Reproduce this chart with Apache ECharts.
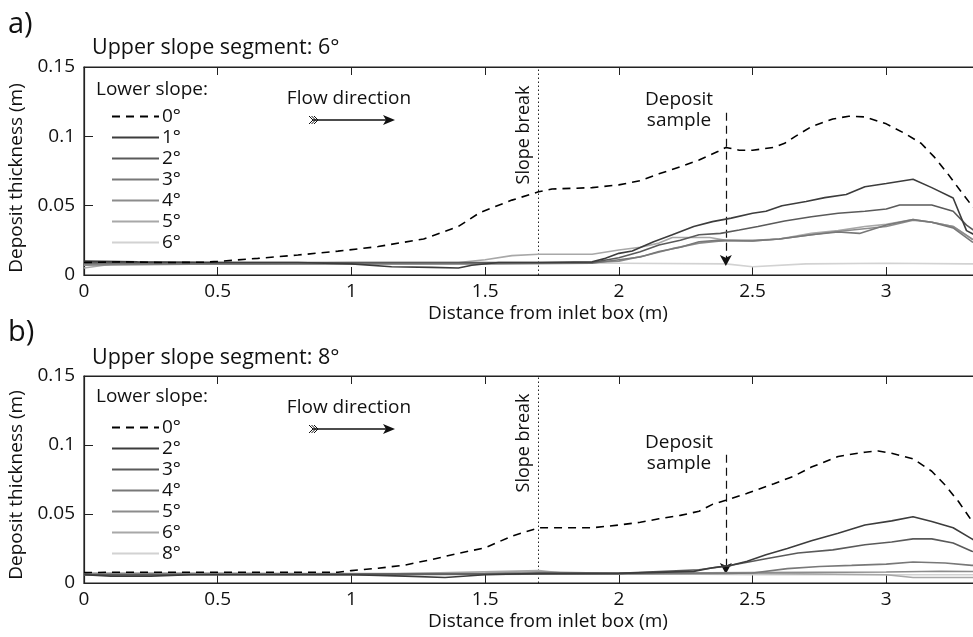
<!DOCTYPE html>
<html>
<head>
<meta charset="utf-8">
<script src="https://cdn.jsdelivr.net/npm/echarts@6/dist/echarts.min.js"></script>
<style>
html, body { margin: 0; padding: 0; background: #fff; }
#chart { width: 973px; height: 637px; }
</style>
</head>
<body>
<div id="chart"></div>
<script>
// 数据: 上坡段 6° (a) 与 8° (b)，各下坡角度的沉积厚度 [距离 m, 厚度 m]
const xTicks = [0, 0.5, 1, 1.5, 2, 2.5, 3, 3.5]
const yTicks = [0, 0.05, 0.1, 0.15]

const a0 = [[0,0.009],[0.15,0.0095],[0.3,0.009],[0.45,0.0092],[0.5,0.0098],[0.65,0.012],[0.8,0.0144],[0.95,0.0172],[1.1,0.0205],[1.27,0.026],[1.4,0.035],[1.48,0.045],[1.6,0.054],[1.7,0.060],[1.75,0.062],[1.9,0.063],[2.0,0.065],[2.08,0.068],[2.15,0.073],[2.23,0.078],[2.3,0.083],[2.37,0.089],[2.4,0.092],[2.45,0.090],[2.5,0.090],[2.58,0.092],[2.62,0.095],[2.66,0.1],[2.72,0.107],[2.8,0.1125],[2.86,0.1145],[2.92,0.114],[3.0,0.109],[3.07,0.102],[3.13,0.095],[3.18,0.085],[3.23,0.073],[3.28,0.060],[3.32,0.050],[3.4,0.032],[3.5,0.02]]
const a1 = [[0,0.01],[0.2,0.0095],[0.5,0.009],[0.8,0.009],[1.0,0.008],[1.15,0.006],[1.3,0.0055],[1.4,0.005],[1.45,0.007],[1.55,0.009],[1.7,0.009],[1.9,0.0095],[1.95,0.012],[2.0,0.0156],[2.05,0.0173],[2.13,0.024],[2.2,0.029],[2.28,0.035],[2.35,0.0385],[2.42,0.041],[2.5,0.0445],[2.55,0.046],[2.61,0.050],[2.7,0.053],[2.77,0.0558],[2.85,0.058],[2.92,0.0637],[3.0,0.066],[3.1,0.069],[3.17,0.063],[3.25,0.0555],[3.3,0.032],[3.33,0.029],[3.4,0.02],[3.5,0.015]]
const a2 = [[0,0.009],[0.5,0.009],[1.0,0.009],[1.5,0.009],[1.9,0.009],[2.0,0.0125],[2.08,0.0168],[2.15,0.0216],[2.23,0.025],[2.3,0.029],[2.38,0.030],[2.45,0.0324],[2.52,0.035],[2.62,0.039],[2.72,0.042],[2.82,0.0445],[2.92,0.046],[3.0,0.0476],[3.05,0.0505],[3.17,0.0505],[3.25,0.046],[3.3,0.036],[3.4,0.022],[3.5,0.016]]
const a3 = [[0,0.008],[0.5,0.008],[1.0,0.008],[1.5,0.008],[1.9,0.0085],[2.0,0.011],[2.08,0.013],[2.15,0.017],[2.23,0.020],[2.3,0.024],[2.37,0.025],[2.5,0.0245],[2.6,0.026],[2.72,0.029],[2.82,0.031],[2.9,0.030],[3.0,0.036],[3.1,0.040],[3.17,0.038],[3.25,0.034],[3.32,0.024],[3.5,0.012]]
const a4 = [[0,0.007],[0.5,0.008],[1.0,0.0085],[1.5,0.0085],[1.9,0.009],[2.0,0.010],[2.1,0.014],[2.2,0.019],[2.3,0.023],[2.4,0.025],[2.5,0.025],[2.6,0.026],[2.7,0.0285],[2.8,0.031],[2.9,0.033],[3.0,0.035],[3.1,0.0395],[3.17,0.038],[3.25,0.035],[3.32,0.026],[3.5,0.013]]
const a5 = [[0,0.005],[0.15,0.009],[0.5,0.008],[1.0,0.009],[1.4,0.009],[1.5,0.011],[1.6,0.014],[1.7,0.015],[1.9,0.015],[2.0,0.018],[2.08,0.020],[2.15,0.023],[2.2,0.027],[2.34,0.027],[2.4,0.025],[2.5,0.0245],[2.6,0.026],[2.72,0.030],[2.82,0.032],[2.92,0.035],[3.0,0.0365],[3.1,0.040],[3.17,0.038],[3.25,0.035],[3.32,0.026],[3.5,0.013]]
const a6 = [[0,0.008],[0.5,0.008],[1.0,0.008],[1.5,0.0085],[2.0,0.0085],[2.4,0.008],[2.5,0.006],[2.7,0.008],[3.0,0.0085],[3.3,0.008],[3.5,0.008]]

const b0 = [[0,0.0075],[0.1,0.0078],[0.5,0.0078],[0.95,0.0078],[1.0,0.009],[1.1,0.0107],[1.2,0.013],[1.3,0.017],[1.4,0.0215],[1.5,0.0255],[1.6,0.034],[1.7,0.040],[1.9,0.040],[2.0,0.042],[2.08,0.044],[2.15,0.0465],[2.23,0.049],[2.3,0.052],[2.35,0.057],[2.4,0.060],[2.48,0.065],[2.58,0.072],[2.65,0.077],[2.72,0.084],[2.82,0.0917],[2.92,0.0948],[2.97,0.0957],[3.02,0.094],[3.1,0.090],[3.17,0.081],[3.22,0.071],[3.27,0.059],[3.32,0.045],[3.4,0.03],[3.5,0.02]]
const b2 = [[0,0.006],[0.1,0.005],[0.25,0.005],[0.4,0.006],[1.0,0.006],[1.2,0.005],[1.35,0.004],[1.5,0.006],[1.7,0.007],[2.0,0.007],[2.28,0.0084],[2.35,0.011],[2.42,0.0128],[2.48,0.0157],[2.55,0.0205],[2.63,0.025],[2.72,0.0306],[2.82,0.036],[2.92,0.042],[3.02,0.045],[3.1,0.048],[3.17,0.0446],[3.25,0.040],[3.32,0.032],[3.4,0.022],[3.5,0.015]]
const b3 = [[0,0.006],[1.0,0.0065],[1.5,0.0065],[2.0,0.007],[2.3,0.0096],[2.42,0.0128],[2.55,0.0176],[2.67,0.0217],[2.8,0.024],[2.92,0.0277],[3.02,0.0297],[3.1,0.032],[3.17,0.032],[3.25,0.029],[3.32,0.023],[3.5,0.015]]
const b4 = [[0,0.006],[1.0,0.006],[2.0,0.0065],[2.4,0.007],[2.5,0.0072],[2.63,0.0104],[2.75,0.012],[2.87,0.0128],[3.0,0.0137],[3.1,0.0152],[3.22,0.0145],[3.32,0.0128],[3.5,0.01]]
const b5 = [[0,0.007],[0.5,0.007],[1.0,0.0065],[1.5,0.007],[1.7,0.008],[2.0,0.007],[2.5,0.0075],[3.0,0.008],[3.2,0.0085],[3.5,0.008]]
const b6 = [[0,0.006],[0.5,0.0065],[1.0,0.006],[1.7,0.009],[1.8,0.007],[2.5,0.007],[3.0,0.006],[3.1,0.004],[3.3,0.004],[3.5,0.004]]
const b8 = [[0,0.007],[0.5,0.007],[1.0,0.007],[1.5,0.007],[2.0,0.007],[2.5,0.006],[3.0,0.006],[3.5,0.006]]

const slopeBreak = 1.7
const samplePos = 2.4
const namesA = ['0°', '1°', '2°', '3°', '4°', '5°', '6°']
const namesB = ['0°', '2°', '3°', '4°', '5°', '6°', '8°']
const dataA = [a0, a1, a2, a3, a4, a5, a6]
const dataB = [b0, b2, b3, b4, b5, b6, b8]
const grays = ['#000000', '#3c3c3c', '#5a5a5a', '#787878', '#8c8c8c', '#a8a8a8', '#d2d2d2']

const font = '"Open Sans", "Noto Sans", sans-serif'
const ink = '#111'
const fs = 19

const chart = echarts.init(document.getElementById('chart'))

const grids = [
  { left: 84, right: -47, top: 67, height: 208 },
  { left: 84, right: -47, top: 376, height: 207 }
]

function xAxisFor (gi) {
  return [{
    type: 'value', gridIndex: gi, min: 0, max: 3.5, interval: 0.5,
    name: 'Distance from inlet box (m)', nameLocation: 'middle', nameGap: 29,
    nameTextStyle: { fontFamily: font, fontSize: fs, color: ink, padding: [0, 8, 0, 0] },
    axisLine: { show: true, lineStyle: { color: '#222', width: 1.2 } },
    axisTick: { show: true, inside: true, length: 8, lineStyle: { color: '#222' } },
    axisLabel: { fontFamily: font, fontSize: fs, color: ink, margin: 7 },
    splitLine: { show: false }
  }, {
    type: 'value', gridIndex: gi, position: 'top', min: 0, max: 3.5, interval: 0.5,
    axisLine: { show: true, lineStyle: { color: '#222', width: 1.2 } },
    axisTick: { show: true, inside: true, length: 8, lineStyle: { color: '#222' } },
    axisLabel: { show: false },
    splitLine: { show: false }
  }]
}

function yAxisFor (gi, shift) {
  return {
    type: 'value', gridIndex: gi, min: 0, max: 0.15, interval: 0.05,
    name: 'Deposit thickness (m)', nameLocation: 'middle', nameGap: 49,
    nameTextStyle: { fontFamily: font, fontSize: fs, color: ink, padding: [0, shift, 0, 0] },
    axisLine: { show: true, lineStyle: { color: '#222', width: 1.2 } },
    axisTick: { show: true, inside: true, length: 9, lineStyle: { color: '#222' } },
    axisLabel: { fontFamily: font, fontSize: fs, color: ink, margin: 9 },
    splitLine: { show: false }
  }
}

function buildSeries (prefix, names, datas, xi, yi, arrowTop) {
  return names.map(function (n, i) {
    const s = {
      name: prefix + '|' + n,
      type: 'line',
      xAxisIndex: xi,
      yAxisIndex: yi,
      data: datas[i],
      symbol: 'none',
      smooth: false,
      z: 10 - i,
      lineStyle: {
        color: grays[i],
        width: 1.6,
        type: i === 0 ? [8, 6] : 'solid'
      },
      itemStyle: { color: grays[i] }
    }
    if (i === 0) {
      s.markLine = {
        silent: true,
        animation: false,
        symbol: ['none', 'none'],
        label: { show: false },
        data: [
          { xAxis: slopeBreak, lineStyle: { type: [1.5, 2.5], color: '#222', width: 1 } },
          [
            { coord: [samplePos, arrowTop], symbol: 'none' },
            { coord: [samplePos, 0.0065], symbol: 'arrow', symbolSize: [9, 11] }
          ]
        ],
        lineStyle: { type: [8, 5], color: '#111', width: 1.2 }
      }
    }
    return s
  })
}

function legendFor (prefix, names, top) {
  return {
    orient: 'vertical',
    left: 106,
    top: top,
    itemWidth: 47,
    itemHeight: 14,
    itemGap: 2,
    selectedMode: false,
    itemStyle: { opacity: 0 },
    data: names.map(function (n) { return prefix + '|' + n }),
    formatter: function (name) { return name.split('|')[1] },
    textStyle: { fontFamily: font, fontSize: fs, color: ink, padding: [0, 0, 0, -2] }
  }
}

function text (x, y, str, size, extra) {
  return Object.assign({
    type: 'text', x: x, y: y,
    style: Object.assign({ text: str, font: size + 'px ' + font, fill: ink, verticalAlign: 'middle' }, (extra && extra.style) || {})
  }, extra ? { rotation: extra.rotation || 0, originX: 0, originY: 0 } : {})
}

function flowArrow (y) {
  const feathers = [0, 1, 2].map(function (k) {
    return { type: 'polyline', shape: { points: [[309 + 2.5 * k, y - 4], [313 + 2.5 * k, y], [309 + 2.5 * k, y + 4]] }, style: { stroke: ink, lineWidth: 1, fill: null } }
  })
  return feathers.concat([
    { type: 'line', shape: { x1: 312, y1: y, x2: 386, y2: y }, style: { stroke: ink, lineWidth: 1.3 } },
    { type: 'polygon', shape: { points: [[383, y - 5], [395, y], [383, y + 5], [386, y]] }, style: { fill: ink } }
  ])
}

function panelGraphics (letter, upper, yLetter, yTitle, yLower, yFlow, yArrow, ySlope, yDep) {
  return [
    text(8, yLetter, letter, 29),
    text(92, yTitle, 'Upper slope segment: ' + upper, 21.5),
    text(96, yLower, 'Lower slope:', 19),
    text(349, yFlow, 'Flow direction', 19, { style: { align: 'center' } }),
    { type: 'text', x: 524, y: ySlope, rotation: Math.PI / 2,
      style: { text: 'Slope break', font: '18px ' + font, fill: ink, align: 'center', verticalAlign: 'middle' } },
    text(679, yDep, 'Deposit', 19, { style: { align: 'center' } }),
    text(679, yDep + 21, 'sample', 19, { style: { align: 'center' } })
  ].concat(flowArrow(yArrow))
}

const option = {
  animation: false,
  backgroundColor: '#fff',
  grid: grids.map(function (g) { return Object.assign({ show: true, borderColor: '#222', borderWidth: 1.2, outerBoundsMode: 'none' }, g) }),
  xAxis: xAxisFor(0).concat(xAxisFor(1)),
  yAxis: [yAxisFor(0, 14), yAxisFor(1, 11)],
  legend: [legendFor('a', namesA, 102), legendFor('b', namesB, 413)],
  series: buildSeries('a', namesA, dataA, 0, 0, 0.117).concat(buildSeries('b', namesB, dataB, 2, 1, 0.093)),
  graphic: panelGraphics('a)', '6°', 25, 48, 90, 99, 120, 135, 100)
    .concat(panelGraphics('b)', '8°', 333, 358, 397, 408, 429, 443, 443))
}

// 使用刚指定的配置项和数据显示图表。
chart.setOption(option)
</script>
</body>
</html>
